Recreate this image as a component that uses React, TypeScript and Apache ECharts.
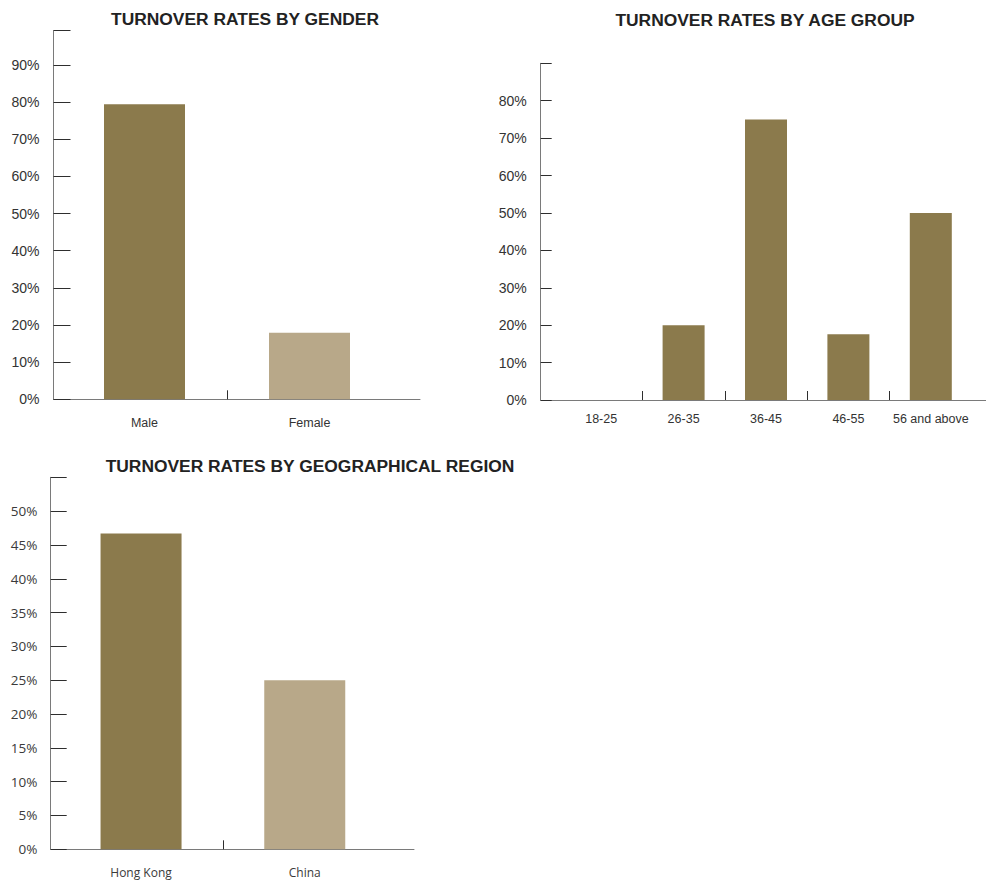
import { useEffect, useRef } from 'react';
import * as echarts from 'echarts';

// ---- data ----
const genderCategories = ['Male', 'Female'];
const genderRates = [79.4, 17.9];

const ageCategories = ['18-25', '26-35', '36-45', '46-55', '56 and above'];
const ageRates = [0, 20, 75, 17.6, 50];

const regionCategories = ['Hong Kong', 'China'];
const regionRates = [46.7, 25];

// value-axis ranges: [max, step, highest labelled tick]
const genderAxis = [99.2, 10, 90];
const ageAxis = [90, 10, 80];
const regionAxis = [55, 5, 50];

// ---- styling ----
const BAR_DARK = '#8b7a4c';
const BAR_LIGHT = '#b8a889';
const AXIS_GRAY = '#7a7a7a';
const TICK_DARK = '#2e2e2e';
const TEXT_DARK = '#333333';
const ARIAL = '"Liberation Sans", Arial, Helvetica, sans-serif';
const HUMANIST = '"Open Sans", "Noto Sans", sans-serif';

type Panel = {
  title: string;
  titleX: number;
  titleY: number;
  axisX: number;
  axisEnd: number;
  plotLeft: number;
  plotRight: number;
  top: number;
  bottom: number;
  categories: string[];
  values: number[];
  colors: string[];
  range: number[];
  tickLen: number;
  yMargin: number;
  yFont: number;
  catFont: number;
  catMargin: number;
  barWidth: number;
  family: string;
  weight: number | string;
  labelColor: string;
};

const panels: Panel[] = [
  {
    title: 'TURNOVER RATES BY GENDER',
    titleX: 245,
    titleY: 19,
    axisX: 53.5,
    axisEnd: 420,
    plotLeft: 62,
    plotRight: 392,
    top: 30.7,
    bottom: 399.3,
    categories: genderCategories,
    values: genderRates,
    colors: [BAR_DARK, BAR_LIGHT],
    range: genderAxis,
    tickLen: 17,
    yMargin: 14,
    yFont: 14,
    catFont: 12.5,
    catMargin: 17.5,
    barWidth: 81,
    family: ARIAL,
    weight: 'normal',
    labelColor: TEXT_DARK,
  },
  {
    title: 'TURNOVER RATES BY AGE GROUP',
    titleX: 765,
    titleY: 19.5,
    axisX: 540.7,
    axisEnd: 986,
    plotLeft: 560,
    plotRight: 972,
    top: 63.3,
    bottom: 400,
    categories: ageCategories,
    values: ageRates,
    colors: ageCategories.map(() => BAR_DARK),
    range: ageAxis,
    tickLen: 11,
    yMargin: 14,
    yFont: 14,
    catFont: 12.5,
    catMargin: 12,
    barWidth: 42,
    family: ARIAL,
    weight: 'normal',
    labelColor: TEXT_DARK,
  },
  {
    title: 'TURNOVER RATES BY GEOGRAPHICAL REGION',
    titleX: 310,
    titleY: 466.3,
    axisX: 50.7,
    axisEnd: 414,
    plotLeft: 59.2,
    plotRight: 386.6,
    top: 477.3,
    bottom: 849.3,
    categories: regionCategories,
    values: regionRates,
    colors: [BAR_DARK, BAR_LIGHT],
    range: regionAxis,
    tickLen: 16,
    yMargin: 13.4,
    yFont: 13.5,
    catFont: 12,
    catMargin: 17,
    barWidth: 81,
    family: HUMANIST,
    weight: 'normal',
    labelColor: '#3a3a3a',
  },
];

function buildOption() {
  const grid: any[] = [];
  const xAxis: any[] = [];
  const yAxis: any[] = [];
  const series: any[] = [];
  const graphic: any[] = [];

  panels.forEach((p, i) => {
    const g = i * 2;
    const xa = i * 3;
    const [yMax, yStep, yLabelMax] = p.range;
    const height = p.bottom - p.top;

    grid.push(
      { left: p.axisX, top: p.top, width: p.axisEnd - p.axisX, height, containLabel: false, outerBoundsMode: 'none' },
      { left: p.plotLeft, top: p.top, width: p.plotRight - p.plotLeft, height, containLabel: false, outerBoundsMode: 'none' }
    );

    // frame axis: only the long baseline
    xAxis.push({
      type: 'value',
      gridIndex: g,
      min: 0,
      max: 1,
      position: 'bottom',
      axisLine: { show: true, onZero: false, lineStyle: { color: AXIS_GRAY, width: 1 } },
      axisTick: { show: false },
      axisLabel: { show: false },
      splitLine: { show: false },
    });
    // category axis carrying the labels
    xAxis.push({
      type: 'category',
      gridIndex: g + 1,
      data: p.categories,
      position: 'bottom',
      axisLine: { show: false, onZero: false },
      axisTick: { show: false },
      axisLabel: {
        interval: 0,
        margin: p.catMargin,
        fontSize: p.catFont,
        fontFamily: p.family,
        fontWeight: p.weight,
        color: p.labelColor,
      },
      splitLine: { show: false },
    });
    // separator ticks between neighbouring categories
    xAxis.push({
      type: 'value',
      gridIndex: g + 1,
      min: 0,
      max: p.categories.length,
      position: 'bottom',
      axisLine: { show: false, onZero: false },
      axisTick: {
        show: true,
        inside: true,
        length: 9,
        customValues: p.categories.slice(1).map((_, k) => k + 1),
        lineStyle: { color: TICK_DARK, width: 1 },
      },
      axisLabel: { show: false },
      splitLine: { show: false },
    });

    yAxis.push({
      type: 'value',
      gridIndex: g,
      min: 0,
      max: yMax,
      interval: yStep,
      axisLine: { show: true, onZero: false, lineStyle: { color: AXIS_GRAY, width: 1 } },
      axisTick: { show: true, inside: true, length: p.tickLen, lineStyle: { color: TICK_DARK, width: 1 } },
      axisLabel: {
        margin: p.yMargin,
        fontSize: p.yFont,
        fontFamily: p.family,
        fontWeight: p.weight,
        color: p.labelColor,
        formatter: (v: number) => (v <= yLabelMax ? `${v}%` : ''),
      },
      splitLine: { show: false },
    });
    yAxis.push({
      type: 'value',
      gridIndex: g + 1,
      min: 0,
      max: yMax,
      show: false,
      splitLine: { show: false },
    });

    series.push({
      type: 'bar',
      xAxisIndex: xa + 1,
      yAxisIndex: g + 1,
      barWidth: p.barWidth,
      silent: true,
      data: p.values.map((v, k) => ({ value: v, itemStyle: { color: p.colors[k] } })),
    });

    graphic.push({
      type: 'text',
      x: p.titleX,
      y: p.titleY,
      style: {
        text: p.title,
        fill: '#222222',
        font: `bold 17.4px ${ARIAL}`,
        textAlign: 'center',
        textVerticalAlign: 'middle',
      },
    });
  });

  return {
    animation: false,
    backgroundColor: '#ffffff',
    grid,
    xAxis,
    yAxis,
    series,
    graphic,
  };
}

export default function App() {
  const ref = useRef<HTMLDivElement>(null);

  useEffect(() => {
    if (!ref.current) return;
    const chart = echarts.init(ref.current, null, { renderer: 'svg' });
    chart.setOption(buildOption() as any);
    return () => chart.dispose();
  }, []);

  return (
    <div
      ref={ref}
      style={{ position: 'absolute', left: 0, top: 0, width: 986, height: 881, background: '#fff' }}
    />
  );
}
